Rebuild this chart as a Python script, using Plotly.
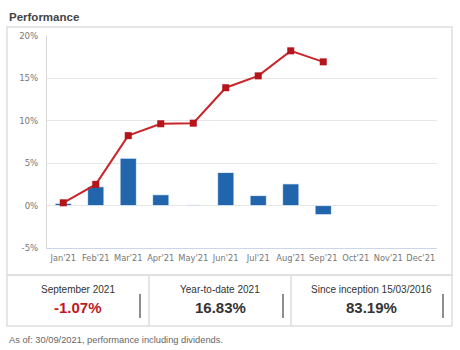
import plotly.graph_objects as go

months = ["Jan'21", "Feb'21", "Mar'21", "Apr'21", "May'21", "Jun'21",
          "Jul'21", "Aug'21", "Sep'21", "Oct'21", "Nov'21", "Dec'21"]
monthly = [0.26, 2.22, 5.58, 1.28, 0.08, 3.9, 1.18, 2.56, -1.07, None, None, None]
cumulative = [0.33, 2.5, 8.25, 9.65, 9.72, 13.9, 15.3, 18.25, 16.95, None, None, None]
y_ticks = [-5, 0, 5, 10, 15, 20]
y_tick_labels = ["-5%", "0%", "5%", "10%", "15%", "20%"]
stat_labels = ["September 2021", "Year-to-date 2021", "Since inception 15/03/2016"]
stat_values = ["-1.07%", "16.83%", "83.19%"]
stat_colors = ["#c0181e", "#333333", "#333333"]

W, H = 460, 350
L, R, T, B = 47, 437, 36, 248


def px(x):
    return (x - L) / (R - L)


def py(y):
    return (B - y) / (B - T)


fig = go.Figure()
fig.add_trace(go.Bar(
    x=months, y=monthly,
    marker=dict(color="#2166ad", line=dict(color="rgba(255,255,255,0.7)", width=1)),
    width=0.5, hoverinfo="skip", showlegend=False,
))
fig.add_trace(go.Scatter(
    x=months, y=cumulative, mode="lines+markers",
    line=dict(color="#c8262b", width=2),
    marker=dict(symbol="square", size=7, color="#b5141a"),
    hoverinfo="skip", showlegend=False,
))

shapes = []
border = "#dedede"
shapes.append(dict(type="rect", xref="paper", yref="paper",
                   x0=px(7), x1=px(452), y0=py(275), y1=py(27),
                   line=dict(color=border, width=1.5), layer="below"))
shapes.append(dict(type="rect", xref="paper", yref="paper",
                   x0=px(7), x1=px(452), y0=py(326), y1=py(275),
                   line=dict(color=border, width=1.5), layer="below"))
for xd in [149, 291]:
    shapes.append(dict(type="line", xref="paper", yref="paper",
                       x0=px(xd), x1=px(xd), y0=py(326), y1=py(275),
                       line=dict(color=border, width=1.5)))
for xm in [140, 283, 443]:
    shapes.append(dict(type="line", xref="paper", yref="paper",
                       x0=px(xm), x1=px(xm), y0=py(318), y1=py(294),
                       line=dict(color="#444444", width=1.2)))

annotations = [dict(text="<b>Performance</b>", xref="paper", yref="paper",
                    x=px(7), y=py(17), xanchor="left", yanchor="middle",
                    showarrow=False, font=dict(family="Liberation Sans, Arial", size=11.5, color="#444444"))]
centers = [78, 220, 371]
for cx, lab, val, col in zip(centers, stat_labels, stat_values, stat_colors):
    annotations.append(dict(text=lab, xref="paper", yref="paper", x=px(cx), y=py(289),
                            xanchor="center", yanchor="middle", showarrow=False,
                            font=dict(family="Liberation Sans, Arial", size=10, color="#333333")))
    annotations.append(dict(text="<b>" + val + "</b>", xref="paper", yref="paper", x=px(cx), y=py(307.5),
                            xanchor="center", yanchor="middle", showarrow=False,
                            font=dict(family="Liberation Sans, Arial", size=15, color=col)))
annotations.append(dict(text="As of: 30/09/2021, performance including dividends.", xref="paper", yref="paper",
                        x=px(7), y=py(340), xanchor="left", yanchor="middle", showarrow=False,
                        font=dict(family="Liberation Sans, Arial", size=9.3, color="#666666")))

fig.update_layout(
    width=W, height=H,
    margin=dict(l=L, r=W - R, t=T, b=H - B, pad=0),
    paper_bgcolor="white", plot_bgcolor="white",
    bargap=0.5,
    shapes=shapes, annotations=annotations,
    xaxis=dict(type="category", categoryorder="array", categoryarray=months,
               range=[-0.5, 11.5], showgrid=False, showline=True, linecolor="#ccd6eb", linewidth=1,
               ticks="", tickangle=0, ticklabelstandoff=2,
               tickfont=dict(family="DejaVu Sans", size=8.3, color="#777777"), fixedrange=True),
    yaxis=dict(range=[-5, 20], tickvals=y_ticks, ticktext=y_tick_labels,
               showgrid=True, gridcolor="#e6e6e6", gridwidth=1, zeroline=False,
               showline=True, linecolor="#d8d8d8", linewidth=1,
               ticks="", ticklabelstandoff=6,
               tickfont=dict(family="DejaVu Sans", size=8.6, color="#777777"), fixedrange=True),
)

fig.write_html("out.html", config={"displayModeBar": False})
